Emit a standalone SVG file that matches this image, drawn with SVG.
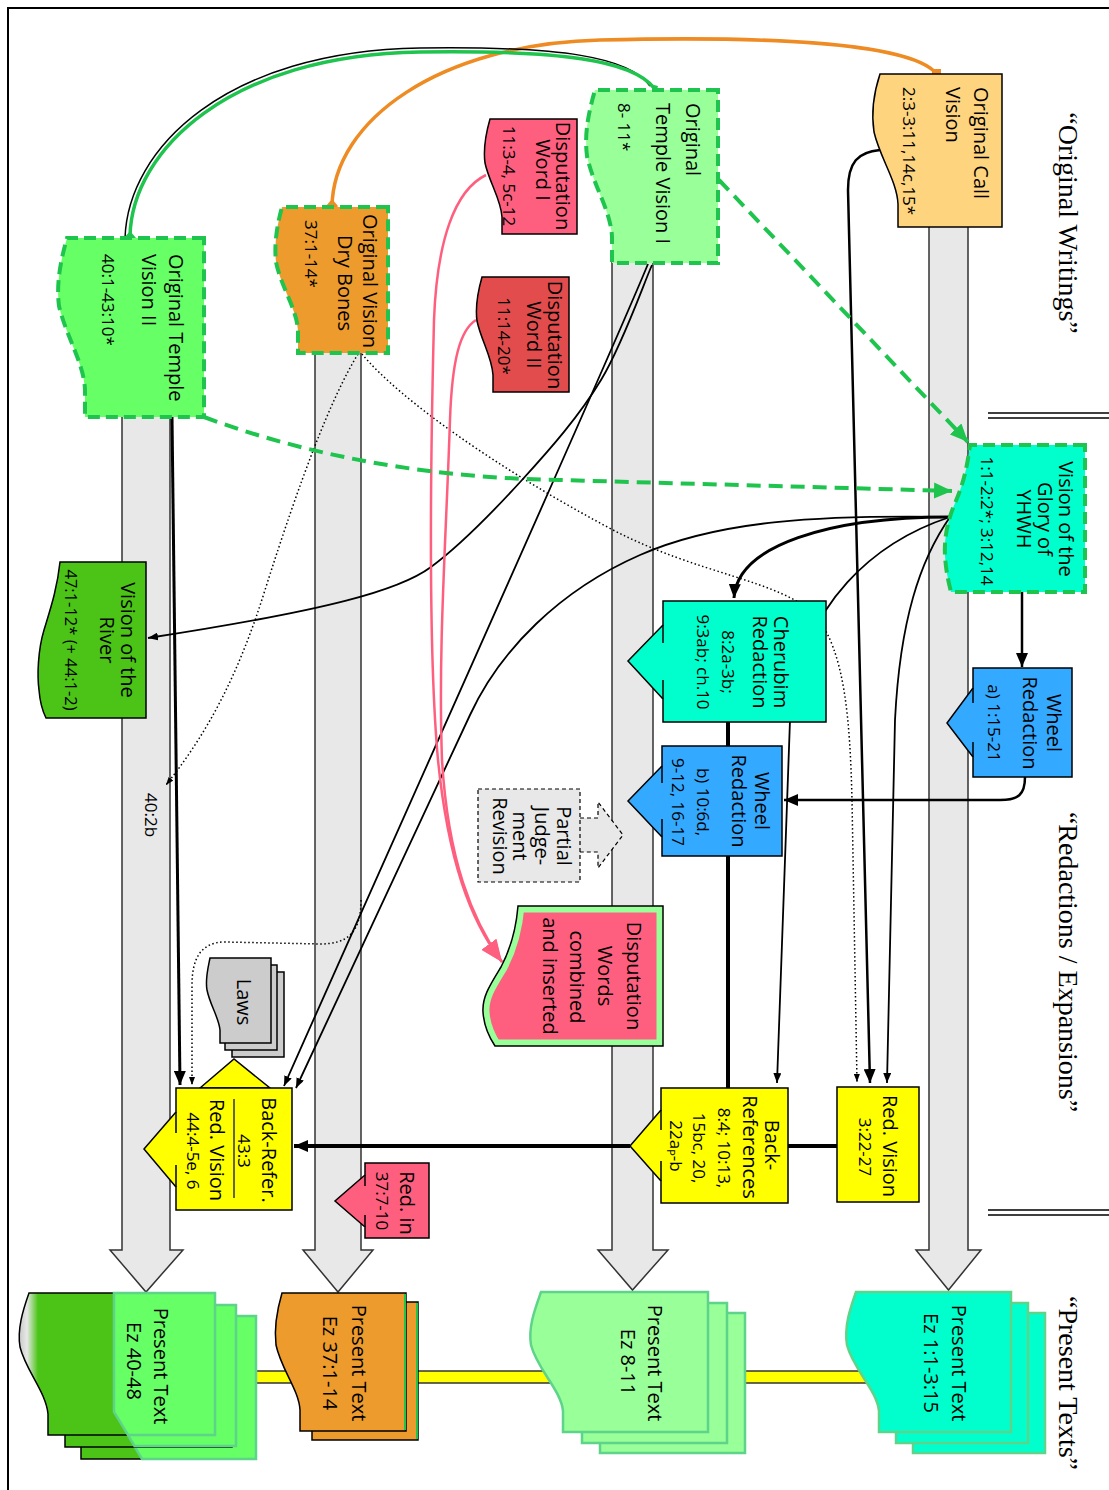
<svg xmlns="http://www.w3.org/2000/svg" width="1109" height="1490" viewBox="0 0 1109 1490">
<style>
.t{font-family:"Open Sans","Noto Sans",sans-serif;font-size:20px;fill:#000}
.r{font-size:17px}
.sec{font-family:"Liberation Serif",serif;font-size:28px;fill:#000}
.lane{fill:#e8e8e8;stroke:#333;stroke-width:1.5}
.ol{stroke:#000;stroke-width:1.5}
.gd{stroke:#1ec44e;stroke-width:4;stroke-dasharray:12 6}
.ln{fill:none;stroke:#000}
.dot{fill:none;stroke:#000;stroke-width:1.5;stroke-dasharray:1.5 2.5}
.pk{fill:none;stroke:#ff5f7f;stroke-width:2.5}
.gc{fill:none;stroke:#1ec44e;stroke-width:4;stroke-dasharray:14 8}
.st{stroke:#5ed38a;stroke-width:2.5}
</style>
<defs>
<marker id="A" viewBox="0 0 14 12" refX="14" refY="6" markerWidth="14" markerHeight="12" markerUnits="userSpaceOnUse" orient="auto"><path d="M0,0 L14,6 L0,12 Z" fill="#000"/></marker>
<marker id="a" viewBox="0 0 10 8" refX="10" refY="4" markerWidth="10" markerHeight="8" markerUnits="userSpaceOnUse" orient="auto"><path d="M0,0 L10,4 L0,8 Z" fill="#000"/></marker>
<marker id="d" viewBox="0 0 8 6" refX="8" refY="3" markerWidth="8" markerHeight="6" markerUnits="userSpaceOnUse" orient="auto"><path d="M0,0 L8,3 L0,6 Z" fill="#000"/></marker>
<marker id="g" viewBox="0 0 18 16" refX="18" refY="8" markerWidth="18" markerHeight="16" markerUnits="userSpaceOnUse" orient="auto"><path d="M0,0 L18,8 L0,16 Z" fill="#1ec44e"/></marker>
<marker id="p" viewBox="0 0 22 18" refX="22" refY="9" markerWidth="22" markerHeight="18" markerUnits="userSpaceOnUse" orient="auto"><path d="M0,0 L22,9 L0,18 Z" fill="#ff5f7f"/></marker>
<linearGradient id="gg" gradientUnits="userSpaceOnUse" x1="18" y1="0" x2="38" y2="0"><stop offset="0" stop-color="#c4c4c4"/><stop offset="0.45" stop-color="#e8e8e8"/><stop offset="1" stop-color="#4cc417"/></linearGradient>
<clipPath id="cc"><path d="M663,906 H518 C516,930 510,950 501,967 C490,985 482,997 483,1012 C484,1028 491,1040 495,1046 H663 Z"/></clipPath>
</defs>

<rect width="1109" height="1490" fill="#fff"/>
<path d="M8,1490 V8 H1109" fill="none" stroke="#000" stroke-width="2"/>

<g id="section-labels">
<text class="sec" transform="translate(1059,223) rotate(90)" text-anchor="middle">“Original Writings”</text>
<text class="sec" transform="translate(1059,962) rotate(90)" text-anchor="middle">“Redactions / Expansions”</text>
<text class="sec" transform="translate(1059,1383) rotate(90)" text-anchor="middle">“Present Texts”</text>
<path d="M988,413 H1109 M988,418 H1109 M988,1210 H1109 M988,1215 H1109" stroke="#000" stroke-width="1.5"/>
</g>

<g id="lanes">
<path class="lane" d="M929,220 V1250 H916 L948.5,1290 L981,1250 H968 V220"/>
<path class="lane" d="M612,258 V1250 H598 L632.5,1290 L668,1250 H653 V258"/>
<path class="lane" d="M315,348 V1250 H303 L338,1292 L373,1250 H361 V348"/>
<path class="lane" d="M122,412 V1250 H110 L146,1292 L183,1250 H170 V412"/>
<rect x="200" y="1371" width="700" height="12" fill="#ffff00" stroke="#333" stroke-width="1.5"/>
</g>

<g id="connectors">
<path d="M332,207 C333,120 440,44 600,40 C760,36 905,42 935,72" fill="none" stroke="#ee8b22" stroke-width="3.5"/>
<rect x="932" y="69" width="9" height="9" fill="#ee8b22"/>
<path d="M332,199 L338,206 L332,213 L326,206 Z" fill="#ee8b22"/>
<path d="M125,238 C128,148 226,51 420,48 C562,46 630,57 650,86" class="ln" stroke-width="1.5"/>
<path d="M130,236 C132,150 230,55 420,52 C560,50 632,60 654,88" fill="none" stroke="#1ec44e" stroke-width="3.5"/>
<path d="M130,231 L136,238 L130,245 L124,238 Z" fill="#1ec44e"/>
<path d="M650,84 L658,86 L656,94 Z" fill="#1ec44e"/>
<path d="M880,150 C858,152 848,162 848,190 L870,1083" class="ln" stroke-width="2.5" marker-end="url(#A)"/>
<path d="M950,517 C830,517 737,545 734,598" class="ln" stroke-width="3" marker-end="url(#A)"/>
<path d="M950,517 C820,515 720,520 640,555 C560,590 500,650 470,715 L296,1088" class="ln" stroke-width="1.8" marker-end="url(#a)"/>
<path d="M950,517 C880,540 800,600 790,720 L777,1083" class="ln" stroke-width="1.8" marker-end="url(#a)"/>
<path d="M950,517 C920,560 900,620 895,720 L887,1083" class="ln" stroke-width="1.8" marker-end="url(#a)"/>
<path d="M172,417 C175,600 177,800 180,1085" class="ln" stroke-width="3" marker-end="url(#A)"/>
<path d="M648,264 C600,380 420,780 284,1086" class="ln" stroke-width="1.8" marker-end="url(#a)"/>
<path d="M652,265 C643.5,284 622.7,344 601,380 C579.3,416 550.3,449 522,480 C493.7,511 458,547 431,567 C400,590 330,610 148,638" class="ln" stroke-width="1.8" marker-end="url(#a)"/>
<path d="M358,354 C330,400 300,480 265,590 C240,670 210,730 166,785" class="dot" marker-end="url(#d)"/>
<path d="M362,354 C400,400 500,470 613,530 C700,575 780,580 815,615 C845,650 850,720 852,800 L857,1082" class="dot" marker-end="url(#d)"/>
<path d="M361,900 C361,935 345,944 320,944 L225,942 C200,942 192,960 192,985 L192,1085" class="dot" marker-end="url(#d)"/>
<path d="M486,175 C455,190 437,240 434,320 C430,480 428,650 438,760 C448,860 470,920 502,962" class="pk" marker-end="url(#p)"/>
<path d="M476,320 C460,330 452,360 450,420 C446,540 438,650 442,760 C448,860 472,920 502,962" class="pk" marker-end="url(#p)"/>
<path d="M204,417 C320,460 440,478 560,480 L952,491" class="gc" marker-end="url(#g)"/>
<path d="M719,180 L968,442" class="gc" marker-end="url(#g)"/>
<path d="M1022,592 V667" class="ln" stroke-width="2.5" marker-end="url(#A)"/>
<path d="M1025,777 C1025,795 1018,800 1000,800 L784,800" class="ln" stroke-width="2.5" marker-end="url(#A)"/>
<path d="M728,722 V746 M728,856 V1088 M837,1146 H788" class="ln" stroke-width="4"/>
<path d="M630,1146 H294" class="ln" stroke-width="4" marker-end="url(#A)"/>
</g>

<g id="n-callvision">
<path d="M1002,74 H880 C874,92 871,112 874,132 C880,158 897,181 898,204 V227 H1002 Z" fill="#ffd47f" class="ol"/>
<text class="t" transform="translate(974,87) rotate(90)">Original Call</text>
<text class="t" transform="translate(946,87) rotate(90)">Vision</text>
<text class="t r" transform="translate(903,87) rotate(90)">2:3-3:11,14c,15*</text>
</g>

<g id="n-templevision1">
<path d="M718,90 H595 C589,111 584,133 587,156 C593,185 611,211 612,237 V263 H718 Z" fill="#99ff99" class="gd"/>
<text class="t" transform="translate(686,103) rotate(90)">Original</text>
<text class="t" transform="translate(656,103) rotate(90)">Temple Vision I</text>
<text class="t r" transform="translate(618,103) rotate(90)">8- 11*</text>
</g>

<g id="n-dispute1">
<path d="M577,119 H490 C486,133 483,148 485,163 C489,182 501,199 502,217 V234 H577 Z" fill="#ff5f7f" class="ol"/>
<text class="t" transform="translate(556,176) rotate(90)" text-anchor="middle">Disputation</text>
<text class="t" transform="translate(536,170) rotate(90)" text-anchor="middle">Word I</text>
<text class="t r" transform="translate(503,176) rotate(90)" text-anchor="middle">11:3-4, 5c-12</text>
</g>

<g id="n-dispute2">
<path d="M569,277 H482 C478,291 475,306 477,321 C481,340 492,357 493,375 V392 H569 Z" fill="#e34c4c" class="ol"/>
<text class="t" transform="translate(548,335) rotate(90)" text-anchor="middle">Disputation</text>
<text class="t" transform="translate(527,335) rotate(90)" text-anchor="middle">Word II</text>
<text class="t r" transform="translate(498,336) rotate(90)" text-anchor="middle">11:14-20*</text>
</g>

<g id="n-drybones">
<path d="M388,207 H282 C277,225 274,244 276,262 C281,287 297,309 298,331 V353 H388 Z" fill="#ec9b2c" class="gd"/>
<text class="t" transform="translate(363,281) rotate(90)" text-anchor="middle">Original Vision</text>
<text class="t" transform="translate(338,283) rotate(90)" text-anchor="middle">Dry Bones</text>
<text class="t r" transform="translate(305,220) rotate(90)">37:1-14*</text>
</g>

<g id="n-templevision2">
<path d="M204,238 H67 C61,259 56,283 59,306 C66,336 84,363 85,390 V417 H204 Z" fill="#66ff66" class="gd"/>
<text class="t" transform="translate(169,254) rotate(90)">Original Temple</text>
<text class="t" transform="translate(142,254) rotate(90)">Vision II</text>
<text class="t r" transform="translate(102,254) rotate(90)">40:1-43:10*</text>
</g>

<g id="n-glory">
<path d="M1085,445 H970 C967,470 962,487 955,503 C947,522 944,540 945,556 C946,572 949,584 951,592 H1085 Z" fill="#00ffcc" class="gd"/>
<text class="t" transform="translate(1059,519) rotate(90)" text-anchor="middle">Vision of the</text>
<text class="t" transform="translate(1038,519) rotate(90)" text-anchor="middle">Glory of</text>
<text class="t" transform="translate(1017,519) rotate(90)" text-anchor="middle">YHWH</text>
<text class="t r" transform="translate(981,521) rotate(90)" text-anchor="middle">1:1-2:2*; 3:12,14</text>
</g>

<g id="n-wheela">
<path d="M1072,668 H973 V688 L947,723 L973,757 V777 H1072 Z" fill="#33aaff" class="ol"/>
<path d="M973,688 V703 M973,742 V757" class="ol"/>
<text class="t" transform="translate(1047,723) rotate(90)" text-anchor="middle">Wheel</text>
<text class="t" transform="translate(1023,723) rotate(90)" text-anchor="middle">Redaction</text>
<text class="t r" transform="translate(988,723) rotate(90)" text-anchor="middle">a) 1:15-21</text>
</g>

<g id="n-cherubim">
<path d="M826,601 H663 V625 L628,661 L663,699 V722 H826 Z" fill="#00ffcc" class="ol"/>
<path d="M663,625 V643 M663,680 V699" class="ol"/>
<text class="t" transform="translate(774,662) rotate(90)" text-anchor="middle">Cherubim</text>
<text class="t" transform="translate(753,662) rotate(90)" text-anchor="middle">Redaction</text>
<text class="t r" transform="translate(722,662) rotate(90)" text-anchor="middle">8:2a-3b;</text>
<text class="t r" transform="translate(697,662) rotate(90)" text-anchor="middle">9:3ab; ch.10</text>
</g>

<g id="n-wheelb">
<path d="M782,746 H662 V766 L628,801 L662,837 V856 H782 Z" fill="#33aaff" class="ol"/>
<path d="M662,766 V783 M662,819 V837" class="ol"/>
<text class="t" transform="translate(755,801) rotate(90)" text-anchor="middle">Wheel</text>
<text class="t" transform="translate(732,801) rotate(90)" text-anchor="middle">Redaction</text>
<text class="t r" transform="translate(697,802) rotate(90)" text-anchor="middle">b) 10:6d,</text>
<text class="t r" transform="translate(672,802) rotate(90)" text-anchor="middle">9-12, 16-17</text>
</g>

<g id="n-partial">
<path d="M580,818 H598 V802 L623,835 L598,868 V852 H580" fill="#e8e8e8" stroke="#000" stroke-width="1.2" stroke-dasharray="4 3"/>
<rect x="478" y="789" width="102" height="93" fill="#e8e8e8" stroke="#000" stroke-width="1.2" stroke-dasharray="4 3"/>
<text class="t" transform="translate(557,836) rotate(90)" text-anchor="middle">Partial</text>
<text class="t" transform="translate(535,836) rotate(90)" text-anchor="middle">Judge-</text>
<text class="t" transform="translate(513,836) rotate(90)" text-anchor="middle">ment</text>
<text class="t" transform="translate(493,836) rotate(90)" text-anchor="middle">Revision</text>
</g>

<g id="n-river">
<path d="M146,562 H60 C57,590 50,610 44,630 C38,650 37,675 39,690 C40,703 43,712 46,718 H146 Z" fill="#4cc417" class="ol"/>
<text class="t" transform="translate(121,640) rotate(90)" text-anchor="middle">Vision of the</text>
<text class="t" transform="translate(100,640) rotate(90)" text-anchor="middle">River</text>
<text class="t" style="font-size:16.5px" transform="translate(65,640) rotate(90)" text-anchor="middle">47:1-12* (+ 44:1-2)</text>
</g>

<g id="label-402b">
<text class="t r" transform="translate(145,793) rotate(90)">40:2b</text>
</g>

<g id="n-disputecombined">
<path d="M663,906 H518 C516,930 510,950 501,967 C490,985 482,997 483,1012 C484,1028 491,1040 495,1046 H663 Z" fill="#ff5f7f"/>
<path d="M663,906 H518 C516,930 510,950 501,967 C490,985 482,997 483,1012 C484,1028 491,1040 495,1046 H663 Z" fill="none" stroke="#99ff99" stroke-width="13" clip-path="url(#cc)"/>
<path d="M663,906 H518 C516,930 510,950 501,967 C490,985 482,997 483,1012 C484,1028 491,1040 495,1046 H663 Z" fill="none" class="ol"/>
<text class="t" transform="translate(627,976) rotate(90)" text-anchor="middle">Disputation</text>
<text class="t" transform="translate(598,976) rotate(90)" text-anchor="middle">Words</text>
<text class="t" transform="translate(570,977) rotate(90)" text-anchor="middle">combined</text>
<text class="t" transform="translate(543,976) rotate(90)" text-anchor="middle">and inserted</text>
</g>

<g id="n-laws">
<rect x="232" y="972" width="52" height="85" fill="#cccccc" class="ol"/>
<rect x="225" y="965" width="52" height="85" fill="#cccccc" class="ol"/>
<path d="M271,958 H210 C208,968 205,979 207,990 C210,1005 219,1018 220,1030 V1043 H271 Z" fill="#cccccc" class="ol"/>
<text class="t" transform="translate(237,1002) rotate(90)" text-anchor="middle">Laws</text>
</g>

<g id="n-backrefer">
<path d="M200,1088 L234,1059 L270,1088 Z" fill="#ffff00" class="ol"/>
<path d="M292,1088 H176 V1112 L144,1149 L176,1187 V1210 H292 Z" fill="#ffff00" class="ol"/>
<path d="M176,1112 V1133 M176,1165 V1187" class="ol"/>
<line x1="234" y1="1099" x2="234" y2="1198" stroke="#333" stroke-width="1.5"/>
<text class="t" transform="translate(262,1150) rotate(90)" text-anchor="middle">Back-Refer.</text>
<text class="t r" transform="translate(238,1151) rotate(90)" text-anchor="middle">43:3</text>
<text class="t" transform="translate(210,1150) rotate(90)" text-anchor="middle">Red. Vision</text>
<text class="t r" transform="translate(187,1151) rotate(90)" text-anchor="middle">44:4-5e, 6</text>
</g>

<g id="n-redin">
<path d="M429,1163 H365 V1175 L335,1201 L365,1227 V1238 H429 Z" fill="#ff5f7f" class="ol"/>
<path d="M365,1175 V1186 M365,1215 V1227" class="ol"/>
<text class="t" transform="translate(400,1203) rotate(90)" text-anchor="middle">Red. in</text>
<text class="t r" transform="translate(376,1201) rotate(90)" text-anchor="middle">37:7-10</text>
</g>

<g id="n-backrefs">
<path d="M788,1088 H661 V1110 L630,1146 L661,1181 V1203 H788 Z" fill="#ffff00" class="ol"/>
<path d="M661,1110 V1130 M661,1161 V1181" class="ol"/>
<text class="t" transform="translate(765,1145) rotate(90)" text-anchor="middle">Back-</text>
<text class="t" transform="translate(743,1147) rotate(90)" text-anchor="middle">References</text>
<text class="t r" transform="translate(718,1148) rotate(90)" text-anchor="middle">8:4; 10:13,</text>
<text class="t r" transform="translate(693,1148) rotate(90)" text-anchor="middle">15bc, 20,</text>
<text class="t r" transform="translate(670,1146) rotate(90)" text-anchor="middle">22a<tspan style="font-size:11px" dy="3">P</tspan><tspan dy="-3">-b</tspan></text>
</g>

<g id="n-redvision">
<rect x="837" y="1087" width="82" height="115" fill="#ffff00" class="ol"/>
<text class="t" transform="translate(883,1146) rotate(90)" text-anchor="middle">Red. Vision</text>
<text class="t r" transform="translate(859,1147) rotate(90)" text-anchor="middle">3:22-27</text>
</g>

<g id="n-ez40">
<path transform="translate(33,24)" d="M215,1293 H29 C23,1310 17,1329 20,1347 C26,1371 46,1392 48,1414 V1435 H215 Z" fill="#4cc417" class="ol"/>
<path d="M114,1316 H256 V1459 H142 L114,1412 Z" fill="#66ff66" class="st"/>
<path transform="translate(17,12)" d="M215,1293 H29 C23,1310 17,1329 20,1347 C26,1371 46,1392 48,1414 V1435 H215 Z" fill="#4cc417" class="ol"/>
<path d="M114,1305 H236 V1446 H134.5 L114,1412 Z" fill="#66ff66" class="st"/>
<path d="M215,1293 H29 C23,1310 17,1329 20,1347 C26,1371 46,1392 48,1414 V1435 H215 Z" fill="url(#gg)" class="ol"/>
<path d="M114,1293 H215 V1435 H128 L114,1412 Z" fill="#66ff66" class="st"/>
<text class="t" transform="translate(154,1366) rotate(90)" text-anchor="middle">Present Text</text>
<text class="t" transform="translate(127,1361) rotate(90)" text-anchor="middle">Ez 40-48</text>
</g>

<g id="n-ez37">
<path transform="translate(12,9)" d="M406,1293 H282 C277,1310 274,1328 276,1345 C281,1369 299,1390 300,1410 V1431 H406 Z" fill="#ec9b2c" class="ol"/>
<line x1="417" y1="1303" x2="417" y2="1439" stroke="#1ec44e" stroke-width="2"/>
<path d="M406,1293 H282 C277,1310 274,1328 276,1345 C281,1369 299,1390 300,1410 V1431 H406 Z" fill="#ec9b2c" class="ol"/>
<line x1="405" y1="1294" x2="405" y2="1430" stroke="#1ec44e" stroke-width="2"/>
<text class="t" transform="translate(352,1363) rotate(90)" text-anchor="middle">Present Text</text>
<text class="t" transform="translate(323,1363) rotate(90)" text-anchor="middle">Ez 37:1-14</text>
</g>

<g id="n-ez8">
<path transform="translate(37,21)" d="M708,1292 H541 C535,1309 528,1327 531,1345 C537,1369 561,1390 563,1411 V1432 H708 Z" fill="#99ff99" class="st"/>
<path transform="translate(19,11)" d="M708,1292 H541 C535,1309 528,1327 531,1345 C537,1369 561,1390 563,1411 V1432 H708 Z" fill="#99ff99" class="st"/>
<path d="M708,1292 H541 C535,1309 528,1327 531,1345 C537,1369 561,1390 563,1411 V1432 H708 Z" fill="#99ff99" class="st"/>
<text class="t" transform="translate(648,1363) rotate(90)" text-anchor="middle">Present Text</text>
<text class="t" transform="translate(621,1362) rotate(90)" text-anchor="middle">Ez 8-11</text>
</g>

<g id="n-ez1">
<path transform="translate(34,21)" d="M1011,1292 H856 C850,1309 844,1327 847,1345 C853,1369 877,1390 879,1411 V1432 H1011 Z" fill="#00ffcc" class="st"/>
<path transform="translate(17,11)" d="M1011,1292 H856 C850,1309 844,1327 847,1345 C853,1369 877,1390 879,1411 V1432 H1011 Z" fill="#00ffcc" class="st"/>
<path d="M1011,1292 H856 C850,1309 844,1327 847,1345 C853,1369 877,1390 879,1411 V1432 H1011 Z" fill="#00ffcc" class="st"/>
<text class="t" transform="translate(952,1363) rotate(90)" text-anchor="middle">Present Text</text>
<text class="t" transform="translate(924,1363) rotate(90)" text-anchor="middle">Ez 1:1-3:15</text>
</g>
</svg>
